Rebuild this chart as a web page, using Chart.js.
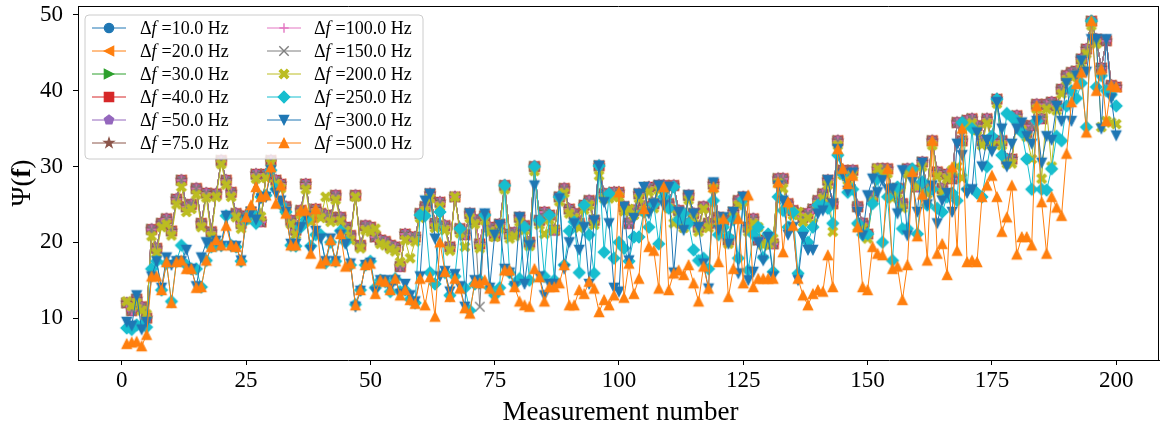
<!DOCTYPE html>
<html><head><meta charset="utf-8">
<script src="https://cdn.jsdelivr.net/npm/chart.js@4.4.1/dist/chart.umd.min.js"></script>
<style>html,body{margin:0;padding:0;background:#fff;overflow:hidden}canvas{display:block}</style>
</head><body>
<canvas id="c" width="1165" height="429"></canvas>
<script>
// ---------------- DATA ----------------
const measurementNumber = Array.from({length: 200}, (_, i) => i + 1);
const xTicks = [0, 25, 50, 75, 100, 125, 150, 175, 200];
const yTicks = [10, 20, 30, 40, 50];
const deltaF = ['10.0', '20.0', '30.0', '40.0', '50.0', '75.0', '100.0', '150.0', '200.0', '250.0', '300.0', '500.0'];

// Δf = 10 ... 100 Hz (nearly identical curves)
const psiLow = [
12.0,11.0,12.5,11.5,10.0,21.7,19.2,22.5,23.1,21.5,
25.7,28.2,24.7,25.0,27.1,22.5,26.5,21.4,26.4,30.8,
28.2,26.6,23.8,22.5,23.5,24.0,29.0,22.7,29.0,30.8,
28.2,27.7,24.7,22.9,21.6,24.2,27.7,23.3,24.4,23.8,
23.6,23.3,26.2,23.3,22.0,20.9,26.2,19.6,22.2,22.0,
20.7,20.3,20.1,19.6,19.4,16.8,21.1,20.7,20.7,23.8,
24.7,26.4,22.5,25.3,22.2,19.4,26.0,21.8,21.0,23.8,
23.0,19.8,23.5,22.0,20.9,22.4,27.5,21.1,21.3,23.3,
22.2,20.0,30.0,22.9,24.0,23.6,21.6,26.0,27.1,24.4,
23.8,22.5,24.9,25.5,22.9,30.1,26.4,26.4,26.6,26.6,
24.7,22.5,24.2,26.4,24.7,27.3,25.1,27.5,27.5,25.1,
27.5,24.2,22.5,26.2,23.8,22.0,24.7,22.5,27.7,23.3,
22.9,20.3,24.0,25.5,26.0,22.0,23.1,20.3,20.1,20.3,
19.8,28.4,28.4,25.1,24.2,23.8,23.3,23.8,24.4,25.5,
26.4,28.2,25.1,33.4,29.5,28.8,29.5,24.7,22.5,21.1,
26.0,29.7,29.7,29.7,26.4,27.1,25.1,29.7,29.5,27.3,
30.6,27.0,33.4,29.3,27.1,29.0,28.4,35.8,33.4,36.1,
36.3,35.4,33.4,36.3,33.4,38.9,33.4,31.0,31.0,36.7,
35.4,34.5,35.4,38.2,36.3,38.2,38.5,38.0,40.2,42.0,
42.4,42.6,44.2,45.5,49.2,46.8,43.0,46.6,40.7,40.5];

const psi150 = [
12.0,11.0,12.5,11.5,10.0,21.7,19.2,22.5,23.1,21.5,
25.7,28.2,24.7,25.0,27.1,22.5,26.5,21.4,26.4,30.8,
28.2,26.6,23.8,22.5,23.5,24.0,29.0,22.7,29.0,30.8,
28.2,27.7,24.7,22.9,21.6,24.2,27.7,23.3,24.4,23.8,
23.6,23.3,26.2,23.3,22.0,20.9,26.2,19.6,22.2,22.0,
20.7,20.3,20.1,19.6,19.4,16.8,21.1,20.7,20.7,23.8,
24.7,26.4,22.5,25.3,22.2,19.4,26.0,21.8,21.0,23.8,
23.0,11.5,23.5,22.0,20.9,22.4,27.5,21.1,21.3,23.3,
22.2,20.0,30.0,22.9,24.0,23.6,21.6,26.0,27.1,24.4,
23.8,22.5,24.9,25.5,22.9,30.1,26.4,26.4,26.6,26.6,
24.7,22.5,24.2,26.4,24.7,27.3,25.1,27.5,27.5,25.1,
27.5,24.2,22.5,26.2,23.8,22.0,24.7,22.5,27.7,23.3,
22.9,20.3,24.0,25.5,26.0,22.0,23.1,20.3,20.1,20.3,
19.8,28.4,28.4,25.1,24.2,23.8,23.3,23.8,24.4,25.5,
26.4,28.2,25.1,33.4,29.5,28.8,29.5,24.7,22.5,21.1,
26.0,29.7,29.7,29.7,26.4,27.1,25.1,29.7,29.5,27.3,
30.6,27.0,33.4,29.3,27.1,29.0,28.4,35.8,33.4,36.1,
36.3,35.4,33.4,36.3,33.4,38.9,33.4,31.0,31.0,36.7,
35.4,34.5,35.4,38.2,36.3,38.2,38.5,38.0,40.2,42.0,
42.4,42.6,44.2,45.5,49.2,46.8,43.0,46.6,40.7,40.5];

const psi200 = [
12.2,11.6,12.0,11.0,10.5,20.8,18.6,22.0,22.4,20.9,
25.0,27.3,24.0,24.4,26.3,22.0,25.9,20.8,26.0,30.3,
27.6,26.0,23.3,21.8,23.0,23.4,28.4,23.4,28.5,30.4,
27.7,27.1,24.1,22.4,21.0,23.7,27.0,22.7,23.8,23.2,
26.0,22.7,25.6,22.8,21.5,20.3,26.0,19.2,21.6,21.4,
21.8,19.8,19.6,19.1,18.8,17.4,20.3,17.9,20.1,23.2,
24.1,25.8,21.9,24.7,21.6,18.9,26.0,21.2,19.4,23.2,
22.4,19.2,22.9,21.4,20.7,21.8,27.0,20.5,20.8,22.7,
21.6,19.5,29.4,22.3,21.1,23.0,21.6,25.4,26.5,23.8,
23.2,21.9,24.3,24.9,22.3,28.8,25.8,25.8,26.0,26.0,
24.1,24.4,23.6,25.8,24.1,26.7,24.5,26.9,26.9,24.5,
22.5,23.6,21.9,25.6,23.2,21.4,24.4,21.9,27.1,22.7,
22.3,19.8,23.4,24.9,25.4,21.4,22.5,22.0,19.6,19.8,
20.5,27.8,27.1,24.5,23.6,24.0,22.7,23.2,22.5,24.9,
25.8,27.6,21.4,32.8,28.9,28.2,28.9,22.0,21.9,20.5,
25.4,29.7,29.1,29.1,25.8,26.5,24.5,29.1,28.9,27.3,
30.0,26.4,32.8,28.7,26.5,28.4,29.5,30.0,28.5,35.5,
35.7,34.8,32.8,35.7,32.8,38.3,32.8,30.4,30.4,36.1,
34.8,33.9,31.0,37.6,28.4,37.6,30.0,37.4,39.6,41.4,
41.8,42.0,43.6,44.9,48.6,46.2,35.2,36.0,35.8,35.6];

const psi250 = [
8.7,8.5,9.1,9.0,8.8,16.5,17.5,13.7,17.2,12.2,
17.5,19.6,17.0,16.5,16.5,14.1,17.6,19.4,19.6,19.6,
23.5,19.6,19.4,17.5,23.0,24.0,22.5,26.0,26.2,29.5,
27.0,25.0,24.0,19.6,19.5,22.0,23.0,19.5,21.0,21.0,
17.3,20.0,17.5,21.5,20.0,17.0,11.8,13.7,17.0,17.5,
14.0,15.0,14.8,13.5,15.2,13.5,13.7,12.5,12.0,23.6,
23.5,16.0,14.5,24.0,16.0,13.0,15.5,21.8,14.0,11.0,
14.5,15.0,23.6,14.0,13.0,14.0,27.5,16.0,14.5,15.2,
22.0,15.0,30.0,22.9,15.5,23.6,15.0,26.0,17.0,21.5,
22.7,16.0,24.9,21.0,15.9,30.1,18.7,26.4,17.9,20.0,
19.2,17.5,20.7,20.7,24.0,22.0,25.0,19.8,26.0,24.5,
27.3,23.0,23.8,22.5,19.0,17.6,17.9,16.5,25.5,21.0,
22.0,20.7,23.0,17.9,25.7,16.3,21.0,22.0,18.0,21.1,
16.1,26.0,24.2,22.0,24.0,15.9,21.5,20.0,22.0,24.9,
24.9,24.5,22.5,31.5,29.0,26.6,27.0,22.5,21.0,21.1,
25.1,28.4,20.0,26.0,17.6,27.3,21.8,21.8,29.7,21.1,
28.0,24.9,27.0,24.5,24.0,26.0,26.5,25.5,35.8,27.0,
35.0,26.5,26.0,30.0,34.0,38.9,31.5,37.0,36.5,36.0,
34.5,31.0,27.0,36.0,27.0,26.9,29.7,34.0,33.4,38.0,
40.0,39.0,41.0,35.2,49.2,40.5,42.0,40.0,39.5,38.0];

const psi300 = [
9.5,9.0,13.0,8.5,9.5,15.5,17.5,14.0,18.0,17.0,
17.5,17.5,19.0,16.5,14.2,18.0,20.0,19.8,20.2,19.5,
23.5,19.5,19.5,17.6,23.0,24.0,23.0,25.8,26.0,29.5,
26.5,25.5,24.0,19.8,19.8,22.0,23.5,19.0,21.5,20.5,
17.5,20.5,17.5,21.0,19.8,17.2,11.5,13.6,17.0,17.3,
13.5,15.0,15.0,14.0,15.0,13.2,14.5,13.0,12.2,15.5,
25.5,26.4,20.5,15.5,16.2,13.5,15.8,14.2,11.5,23.8,
15.0,14.5,23.8,14.0,21.0,22.3,16.5,16.0,14.2,23.3,
14.5,19.6,27.5,15.5,13.0,14.5,14.5,25.8,16.5,20.0,
22.5,19.0,22.0,14.5,22.9,30.1,25.3,22.5,14.0,13.5,
24.7,17.6,23.2,26.4,27.3,23.8,25.1,27.5,24.9,27.3,
16.0,24.0,21.6,26.2,23.8,22.0,17.2,13.9,27.9,21.6,
23.3,19.8,24.0,15.9,26.0,15.0,16.1,20.0,17.6,20.7,
15.5,27.5,25.5,21.0,22.0,15.0,20.7,19.0,19.0,23.8,
24.2,28.2,25.1,32.3,29.0,26.8,29.2,24.0,20.9,26.2,
28.4,26.6,28.2,27.0,27.1,23.8,29.5,20.9,28.0,24.0,
30.5,25.0,27.5,22.5,25.5,26.5,24.0,33.0,31.5,26.5,
27.0,34.5,30.0,33.5,32.0,38.5,35.0,30.0,33.0,35.0,
35.8,34.0,33.0,36.0,30.5,34.0,33.5,38.0,36.0,41.0,
36.0,42.0,44.0,42.5,46.8,46.8,35.0,46.8,39.0,34.1];

const psi500 = [
6.6,6.8,6.9,6.3,7.8,15.5,15.5,13.7,17.4,12.0,
17.4,17.6,16.5,16.5,14.0,14.1,17.6,19.4,20.3,19.6,
22.2,19.6,19.4,17.6,23.3,24.9,27.3,26.0,26.2,29.9,
25.1,27.5,23.8,19.6,19.6,24.2,24.2,18.5,24.4,17.2,
17.6,20.3,17.5,21.1,16.8,17.2,11.7,13.7,17.0,17.2,
13.2,15.0,14.8,13.7,15.2,13.0,13.7,12.4,11.9,15.2,
11.7,15.4,10.2,20.0,16.1,12.8,15.2,13.9,11.3,10.6,
14.8,14.6,15.0,13.9,12.6,13.7,16.3,16.3,14.1,12.2,
11.7,11.5,16.5,15.4,12.2,14.1,14.1,14.6,17.0,11.7,
11.7,13.7,13.2,14.8,13.9,10.8,12.4,11.7,13.0,26.6,
12.7,17.2,13.2,15.2,24.4,19.4,18.9,13.9,27.3,13.7,
15.9,16.3,15.7,17.0,14.6,12.2,16.8,13.9,27.3,17.4,
23.1,12.8,16.5,23.1,14.6,26.2,14.1,15.2,15.2,15.2,
15.2,27.9,18.7,25.3,22.2,15.2,13.0,11.7,13.2,13.7,
13.5,18.3,14.1,32.3,29.7,27.7,28.8,22.0,14.1,13.7,
19.4,18.5,18.3,29.7,16.5,16.8,12.4,17.0,29.3,20.8,
26.3,17.6,33.4,18.5,19.8,15.7,29.9,18.9,35.0,17.4,
17.6,17.4,26.0,27.5,28.8,26.0,21.4,23.3,27.5,18.4,
20.7,20.7,19.6,38.0,25.3,18.5,26.0,24.6,23.5,31.7,
38.5,40.9,42.4,34.5,49.2,40.0,42.8,36.0,40.7,40.5];

const seriesValues = [psiLow, psiLow, psiLow, psiLow, psiLow, psiLow, psiLow, psi150, psi200, psi250, psi300, psi500];

// ---------------- STYLE ----------------
const colors = ['#1f77b4','#ff7f0e','#2ca02c','#d62728','#9467bd','#8c564b','#e377c2','#7f7f7f','#bcbd22','#17becf','#1f77b4','#ff7f0e'];
const markers = ['o','<','>','s','p','*','+','x','X','D','v','^'];
const FONT = "'Liberation Serif','DejaVu Serif',serif";

function makeMarker(type, color) {
  const S = 22, c = document.createElement('canvas');
  c.width = S; c.height = S;
  const g = c.getContext('2d');
  g.translate(S/2, S/2);
  g.fillStyle = color; g.strokeStyle = color; g.lineWidth = 1.2; g.lineJoin = 'miter';
  const s = 9.4, h = s/2;
  const poly = pts => { g.beginPath(); pts.forEach((p,i)=> i? g.lineTo(p[0],p[1]) : g.moveTo(p[0],p[1])); g.closePath(); g.fill(); g.stroke(); };
  switch (type) {
    case 'o': g.beginPath(); g.arc(0,0,h,0,Math.PI*2); g.fill(); g.stroke(); break;
    case '^': poly([[0,-h],[-h,h],[h,h]]); break;
    case 'v': poly([[0,h],[-h,-h],[h,-h]]); break;
    case '<': poly([[-h,0],[h,-h],[h,h]]); break;
    case '>': poly([[h,0],[-h,-h],[-h,h]]); break;
    case 's': poly([[-h,-h],[h,-h],[h,h],[-h,h]]); break;
    case 'D': { const d = s*0.62; poly([[0,-d],[d,0],[0,d],[-d,0]]); break; }
    case 'p': { const p=[]; for (let k=0;k<5;k++){const a=-Math.PI/2+k*2*Math.PI/5; p.push([h*1.05*Math.cos(a),h*1.05*Math.sin(a)]);} poly(p); break; }
    case '*': { const p=[]; for (let k=0;k<10;k++){const a=-Math.PI/2+k*Math.PI/5; const r=(k%2)?h*1.1*0.382:h*1.1; p.push([r*Math.cos(a),r*Math.sin(a)]);} poly(p); break; }
    case '+': g.lineWidth=1.4; g.beginPath(); g.moveTo(-h,0); g.lineTo(h,0); g.moveTo(0,-h); g.lineTo(0,h); g.stroke(); break;
    case 'x': g.lineWidth=1.4; g.beginPath(); g.moveTo(-h,-h); g.lineTo(h,h); g.moveTo(h,-h); g.lineTo(-h,h); g.stroke(); break;
    case 'X': { const u=s; poly([[-0.5,-0.3],[-0.3,-0.5],[0,-0.2],[0.3,-0.5],[0.5,-0.3],[0.2,0],[0.5,0.3],[0.3,0.5],[0,0.2],[-0.3,0.5],[-0.5,0.3],[-0.2,0]].map(q=>[q[0]*u,q[1]*u])); break; }
  }
  return c;
}
const markerImgs = markers.map((m,i)=>makeMarker(m, colors[i]));

const datasets = seriesValues.map((vals, i) => ({
  label: 'Δf =' + deltaF[i] + ' Hz',
  data: vals.map((v, k) => ({x: measurementNumber[k], y: v})),
  borderColor: colors[i],
  backgroundColor: colors[i],
  borderWidth: 1,
  pointStyle: markerImgs[i],
  pointRadius: 5,
  tension: 0,
  order: 20 - i
}));

const PLOT = {left: 78, right: 1163, top: 5, bottom: 360};

const decor = {
  id: 'decor',
  afterDatasetsDraw(chart) {
    const ctx = chart.ctx, a = chart.chartArea;
    ctx.save();
    // top & right spines
    ctx.strokeStyle = '#000'; ctx.lineWidth = 1;
    ctx.beginPath();
    ctx.moveTo(a.left, a.top + 0.5); ctx.lineTo(a.right, a.top + 0.5);
    ctx.moveTo(a.right - 0.5, a.top); ctx.lineTo(a.right - 0.5, a.bottom);
    ctx.stroke();
    // legend
    const bx = 85, by = 15, bw = 338, bh = 144, r = 4;
    ctx.beginPath();
    ctx.moveTo(bx + r, by); ctx.arcTo(bx + bw, by, bx + bw, by + bh, r);
    ctx.arcTo(bx + bw, by + bh, bx, by + bh, r); ctx.arcTo(bx, by + bh, bx, by, r);
    ctx.arcTo(bx, by, bx + bw, by, r); ctx.closePath();
    ctx.fillStyle = 'rgba(255,255,255,0.8)'; ctx.fill();
    ctx.strokeStyle = '#cccccc'; ctx.lineWidth = 1; ctx.stroke();
    for (let i = 0; i < 12; i++) {
      const col = i < 6 ? 0 : 1, row = i % 6;
      const lx = col ? 267 : 92, y = 28 + row * 23;
      ctx.strokeStyle = colors[i]; ctx.lineWidth = 1;
      ctx.beginPath(); ctx.moveTo(lx, y); ctx.lineTo(lx + 34, y); ctx.stroke();
      const im = markerImgs[i];
      ctx.drawImage(im, lx + 17 - im.width / 2, y - im.height / 2);
      let tx = col ? 314 : 140;
      ctx.fillStyle = '#000'; ctx.textBaseline = 'alphabetic'; ctx.textAlign = 'left';
      ctx.font = '18px ' + FONT; ctx.fillText('Δ', tx, y + 6); tx += ctx.measureText('Δ').width;
      ctx.font = 'italic 18px ' + FONT; ctx.fillText('f', tx, y + 6); tx += ctx.measureText('f').width + 5;
      ctx.font = '18px ' + FONT; ctx.fillText('=' + deltaF[i] + ' Hz', tx, y + 6);
    }
    // x title
    ctx.fillStyle = '#000'; ctx.font = '27px ' + FONT; ctx.textAlign = 'center';
    ctx.fillText('Measurement number', (a.left + a.right) / 2 + 2, 420);
    // y title Ψ(f) with bold f
    ctx.translate(30, (a.top + a.bottom) / 2);
    ctx.rotate(-Math.PI / 2);
    const parts = [['Ψ(', '27px '], ['f', 'bold 27px '], [')', '27px ']];
    let w = 0; parts.forEach(p => { ctx.font = p[1] + FONT; w += ctx.measureText(p[0]).width; });
    let x0 = -w / 2; ctx.textAlign = 'left';
    parts.forEach(p => { ctx.font = p[1] + FONT; ctx.fillText(p[0], x0, 0); x0 += ctx.measureText(p[0]).width; });
    ctx.restore();
  }
};

function zeroPad(s) { s.paddingTop = 0; s.paddingBottom = 0; s.paddingLeft = 0; s.paddingRight = 0; }

new Chart(document.getElementById('c'), {
  type: 'line',
  data: {datasets},
  options: {
    responsive: false, animation: false, devicePixelRatio: 1,
    layout: {padding: {top: PLOT.top, right: 1165 - PLOT.right, left: 0, bottom: 0}},
    plugins: {legend: {display: false}, tooltip: {enabled: false}},
    scales: {
      x: {
        type: 'linear', min: -8.8, max: 208.6,
        afterBuildTicks: s => { s.ticks = xTicks.map(v => ({value: v})); },
        afterFit: s => { s.height = 429 - PLOT.bottom; zeroPad(s); },
        grid: {display: true, drawOnChartArea: false, drawTicks: true, tickLength: 5, color: '#000', lineWidth: 1},
        border: {display: true, color: '#000', width: 1},
        ticks: {color: '#000', font: {family: FONT, size: 23}, padding: 2, maxRotation: 0, autoSkip: false}
      },
      y: {
        type: 'linear', min: 4.47, max: 51.18,
        afterBuildTicks: s => { s.ticks = yTicks.map(v => ({value: v})); },
        afterFit: s => { s.width = PLOT.left; zeroPad(s); },
        grid: {display: true, drawOnChartArea: false, drawTicks: true, tickLength: 5, color: '#000', lineWidth: 1},
        border: {display: true, color: '#000', width: 1},
        ticks: {color: '#000', font: {family: FONT, size: 23}, padding: 10, autoSkip: false}
      }
    }
  },
  plugins: [decor]
});
</script>
</body></html>
